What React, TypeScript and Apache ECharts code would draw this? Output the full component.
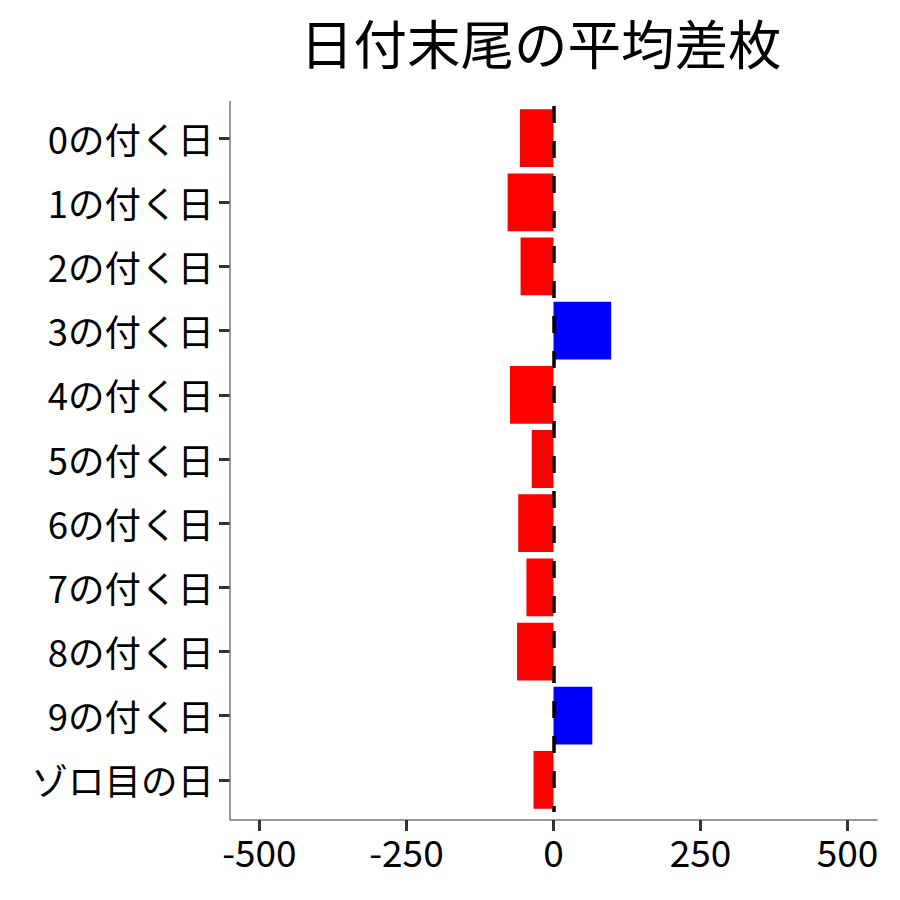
import React, { useEffect, useRef } from 'react';
import * as echarts from 'echarts';

const titleText = '日付末尾の平均差枚';
const categories = [
  '0の付く日', '1の付く日', '2の付く日', '3の付く日', '4の付く日', '5の付く日',
  '6の付く日', '7の付く日', '8の付く日', '9の付く日', 'ゾロ目の日',
];
const values = [-57, -78, -56, 98, -74, -37, -60, -46, -62, 66, -34];
const xTicks = [-500, -250, 0, 250, 500];
const xMin = -550;
const xMax = 550;

const FONT = '"Noto Sans CJK JP", "Noto Sans", sans-serif';

export default function App() {
  const ref = useRef<HTMLDivElement>(null);
  useEffect(() => {
    const chart = echarts.init(ref.current!, null, { renderer: 'svg' });
    chart.setOption({
      animation: false,
      backgroundColor: '#ffffff',
      title: {
        text: titleText,
        left: 295,
        top: 10,
        textStyle: { fontFamily: FONT, fontSize: 53.5, fontWeight: 'normal', color: '#000' },
      },
      grid: { left: 230, width: 647, top: 106, height: 706, containLabel: false },
      xAxis: {
        type: 'value',
        min: xMin,
        max: xMax,
        offset: 8,
        splitLine: { show: false },
        axisLine: { show: true, onZero: false, lineStyle: { color: '#777', width: 1.5 } },
        axisTick: { show: true, length: 11, lineStyle: { color: '#333', width: 3 }, customValues: xTicks },
        axisLabel: { customValues: xTicks, fontFamily: FONT, fontSize: 37, color: '#000', margin: 12 },
      },
      yAxis: {
        type: 'category',
        data: categories,
        inverse: true,
        axisLine: { show: false, onZero: false },
        axisTick: { show: true, alignWithLabel: true, length: 11, lineStyle: { color: '#333', width: 3 } },
        axisLabel: { fontFamily: FONT, fontSize: 36.5, color: '#000', margin: 16 },
        splitLine: { show: false },
      },
      graphic: [
        {
          type: 'line',
          shape: { x1: 230, y1: 101, x2: 230, y2: 820 },
          style: { stroke: '#777', lineWidth: 1.5 },
          z: 10,
        },
      ],
      series: [
        {
          type: 'bar',
          barCategoryGap: '10%',
          data: values.map((v) => ({ value: v, itemStyle: { color: v > 0 ? '#0000ff' : '#ff0000' } })),
          markLine: {
            silent: true,
            symbol: ['none', 'none'],
            label: { show: false },
            lineStyle: { color: '#000', width: 3.5, type: [17, 18] },
            data: [{ xAxis: 0 }],
          },
          z: 2,
        },
      ],
    });
    return () => chart.dispose();
  }, []);
  return <div ref={ref} style={{ position: 'fixed', left: 0, top: 0, width: 900, height: 900 }} />;
}
